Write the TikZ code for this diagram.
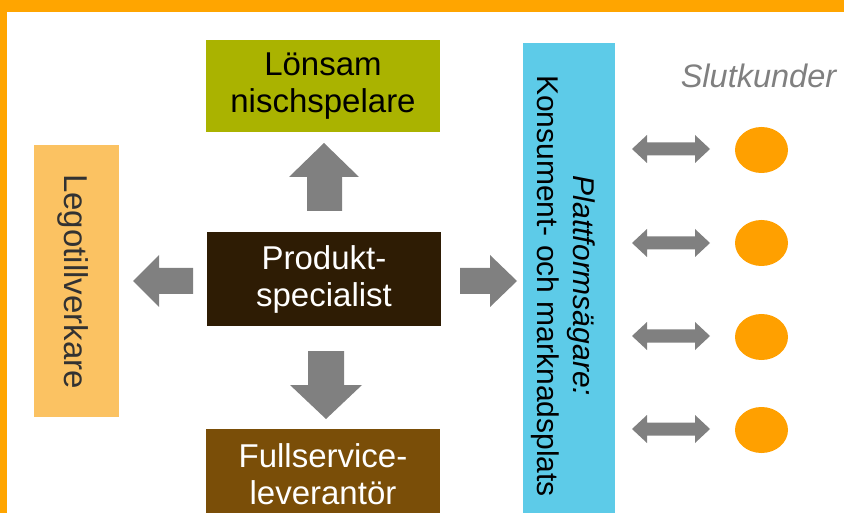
\documentclass[tikz,border=0pt]{standalone}
\usepackage{fontspec}
\setmainfont{Liberation Sans}
\usetikzlibrary{shapes.geometric}
\definecolor{frameor}{RGB}{255,165,0}
\definecolor{lime}{RGB}{170,179,0}
\definecolor{lightor}{RGB}{251,194,98}
\definecolor{darkbr}{RGB}{46,28,4}
\definecolor{midbr}{RGB}{122,78,8}
\definecolor{skyb}{RGB}{93,203,232}
\definecolor{arrgray}{RGB}{128,128,128}
\definecolor{dotor}{RGB}{255,160,0}
\definecolor{txtgray}{RGB}{128,128,128}
\definecolor{legotext}{RGB}{50,50,50}
\begin{document}
\begin{tikzpicture}[x=1pt,y=-1pt,
  box/.style={rectangle, inner sep=0pt, align=center, font=\fontsize{33}{37}\selectfont},
  blockarrow/.style={fill=arrgray, draw=none},
  dot/.style={ellipse, fill=dotor, draw=none, minimum width=53pt, minimum height=46pt, inner sep=0pt}]
\useasboundingbox (0,0) rectangle (844,513);
\clip (0,0) rectangle (844,513);
\fill[white] (0,0) rectangle (844,513);
% frame
\fill[frameor] (0,0) rectangle (844,12.5);
\fill[frameor] (0,0) rectangle (6.5,513);
% boxes
\node[box, fill=lime, minimum width=234pt, minimum height=92pt, text=black] (lonsam) at (323,86) {Lönsam\\nischspelare};
\node[box, fill=darkbr, minimum width=234pt, minimum height=94pt, text=white] (prod) at (324,279) {Produkt-\\specialist};
\node[box, fill=midbr, minimum width=234pt, minimum height=90pt, text=white] (full) at (323,474) {Fullservice-\\leverantör};
\node[box, fill=lightor, minimum width=85pt, minimum height=272pt] (lego) at (76.5,281) {};
\node[box, rotate=-90, text=legotext] (legotxt) at (73,281.5) {Legotillverkare};
\fill[skyb] (523,43) rectangle (615,520);
\node[box, rotate=-90, text=black, font=\fontsize{30}{36}\selectfont] (platttxt) at (563.5,286) {\textit{Plattformsägare:}\\Konsument- och marknadsplats};
% block arrows
\fill[blockarrow] (324,143) -- (359,177) -- (342,177) -- (342,211) -- (307,211) -- (307,177) -- (289,177) -- cycle;
\fill[blockarrow] (326,419) -- (362,385) -- (344,385) -- (344,351) -- (308,351) -- (308,385) -- (290,385) -- cycle;
\fill[blockarrow] (133,281) -- (159,255) -- (159,268) -- (193,268) -- (193,294) -- (159,294) -- (159,307) -- cycle;
\fill[blockarrow] (517,281) -- (490,255) -- (490,268) -- (460,268) -- (460,294) -- (490,294) -- (490,307) -- cycle;
% customers
\node[font=\fontsize{32.5}{37}\selectfont\itshape, text=txtgray, anchor=base] (slut) at (758.5,88) {Slutkunder};
\foreach \i/\ya/\yb in {1/149/150, 2/243/243, 3/336/337, 4/429/430}{
  \node[dot] (k\i) at (761.5,\yb) {};
  \fill[blockarrow] (632,\ya) -- (647,\ya-14) -- (647,\ya-6.5) -- (695,\ya-6.5) -- (695,\ya-14) -- (710,\ya) -- (695,\ya+14) -- (695,\ya+6.5) -- (647,\ya+6.5) -- (647,\ya+14) -- cycle;
}
\end{tikzpicture}
\end{document}
